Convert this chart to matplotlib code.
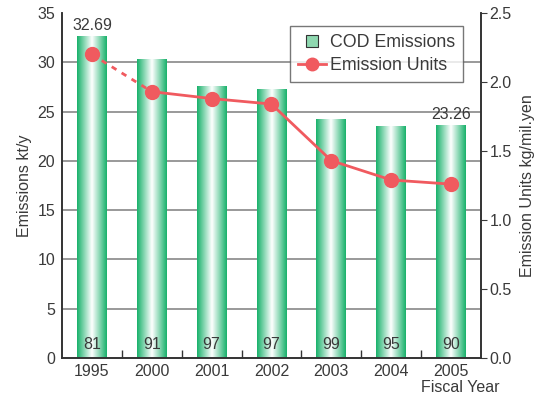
import numpy as np
import matplotlib
matplotlib.use("Agg")
import matplotlib.pyplot as plt
from matplotlib.colors import LinearSegmentedColormap
from matplotlib.patches import Rectangle
from matplotlib.lines import Line2D

plt.rcParams['font.family'] = ['Liberation Sans', 'DejaVu Sans']

# Data
years = ['1995', '2000', '2001', '2002', '2003', '2004', '2005']
cod_emissions = [32.69, 30.3, 27.6, 27.3, 24.2, 23.5, 23.6]   # kt/y
emission_units = [2.20, 1.93, 1.88, 1.84, 1.43, 1.29, 1.26]    # kg/mil.yen
bar_labels = ['81', '91', '97', '97', '99', '95', '90']
top_labels = {0: '32.69', 6: '23.26'}

green = '#17b16a'
red = '#f05a5f'
text_col = '#3a3a3a'

fig = plt.figure(figsize=(5.38, 4.01), dpi=100)
ax = fig.add_axes([0.1152, 0.1072, 0.7788, 0.8604])
ax2 = ax.twinx()

x = np.arange(len(years))
w = 0.5

# gradient bars: green edges, white centre
cmap = LinearSegmentedColormap.from_list('g', [green, '#ffffff', green])
grad = np.linspace(0, 1, 256).reshape(1, -1)
for xi, v in zip(x, cod_emissions):
    im = ax.imshow(grad, cmap=cmap, aspect='auto', extent=(xi - w / 2, xi + w / 2, 0, v), zorder=2)
    rect = Rectangle((xi - w / 2, 0), w, v, transform=ax.transData)
    im.set_clip_path(rect)
ax.set_xlim(-0.5, len(years) - 0.5)
ax.set_ylim(0, 35)

# gridlines
for yv in range(5, 35, 5):
    ax.axhline(yv, color='#888888', lw=1.2, zorder=1)

# labels in bars
for xi, lab in zip(x, bar_labels):
    ax.text(xi, 1.4, lab, ha='center', va='center', fontsize=11.5, color=text_col, zorder=3)
for i, lab in top_labels.items():
    ax.text(x[i], cod_emissions[i] + 0.3, lab, ha='center', va='bottom', fontsize=11.5, color=text_col)

# emission units line
ax2.plot(x[:2], emission_units[:2], color=red, lw=2, ls=(0, (2, 2.2)), zorder=4)
ax2.plot(x[1:], emission_units[1:], color=red, lw=2, zorder=4)
ax2.plot(x, emission_units, ls='none', marker='o', ms=10, color=red, zorder=5)
ax2.set_ylim(0, 2.5)
ax2.set_yticks(np.arange(0, 2.51, 0.5))
ax2.set_yticklabels([f'{v:.1f}' for v in np.arange(0, 2.51, 0.5)])

# axes styling
ax.set_yticks(range(0, 36, 5))
ax.set_xticks(x)
ax.set_xticklabels(years)
ax.set_xticks(np.arange(0.5, len(years) - 1, 1), minor=True)
ax.tick_params(axis='x', which='major', length=0, labelsize=11.5, colors=text_col, pad=4)
ax.tick_params(axis='x', which='minor', direction='in', length=6, width=1, color='#333333')
ax.tick_params(axis='y', length=0, labelsize=11.5, colors=text_col, pad=5)
ax2.tick_params(axis='y', direction='out', length=4, labelsize=11.5, colors=text_col, pad=2)
for a in (ax, ax2):
    for s in a.spines.values():
        s.set_color('#333333')
        s.set_linewidth(1.2)
ax.spines['top'].set_visible(False)
ax2.spines['top'].set_visible(False)

ax.set_ylabel('Emissions kt/y', fontsize=11.5, color=text_col, labelpad=4)
ax2.set_ylabel('Emission Units kg/mil.yen', fontsize=11.5, color=text_col, labelpad=6)
fig.text(0.855, 0.033, 'Fiscal Year', ha='center', va='center', fontsize=11.5, color=text_col)

# legend
h_bar = Line2D([], [], ls='none', marker='s', ms=8, markerfacecolor='#8fd8b0',
               markeredgecolor='#333333', markeredgewidth=0.8)
h_line = Line2D([], [], color=red, lw=2, marker='o', ms=9)
leg = ax2.legend([h_bar, h_line], ['COD Emissions', 'Emission Units'],
                 loc='upper right', bbox_to_anchor=(0.9565, 0.961), fontsize=12.8,
                 frameon=True, fancybox=False, edgecolor='#555555',
                 handlelength=1.6, handletextpad=0.2, borderpad=0.45, labelspacing=0.3,
                 borderaxespad=0)
leg.get_frame().set_linewidth(1)
for t in leg.get_texts():
    t.set_color(text_col)

fig.savefig('out.png', dpi=100)
